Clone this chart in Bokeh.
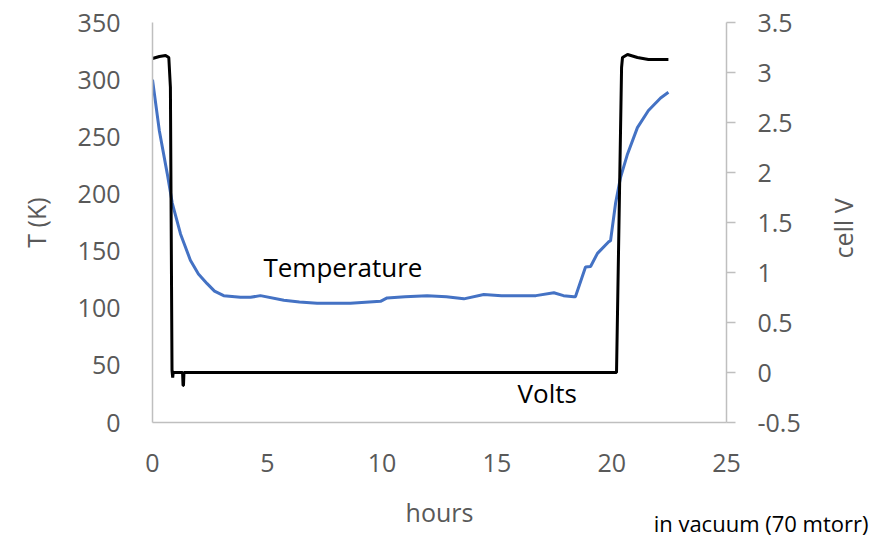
from bokeh.plotting import figure
from bokeh.models import (Range1d, LinearAxis, FixedTicker, NumeralTickFormatter, Label, Title,
                          CustomJSTickFormatter)
from bokeh.embed import file_html
from bokeh.resources import INLINE
import math

# ---- data ----
t_hours = [0, 0.3, 0.64, 0.86, 1.22, 1.65, 2.0, 2.38, 2.7, 3.1, 3.83, 4.27, 4.7, 5.72, 6.4,
           7.17, 8.62, 9.93, 10.22, 11.0, 11.96, 12.8, 13.56, 14.43, 15.2, 15.88, 16.7, 17.48,
           17.9, 18.35, 18.42, 18.86, 19.08, 19.38, 19.86, 19.95, 20.17, 20.38, 20.69, 21.12,
           21.6, 22.13, 22.47]
temperature_K = [300, 255, 218, 192, 165, 142, 130, 121.5, 115, 111, 109.5, 109.6, 111, 107, 105.5,
                 104.4, 104.4, 106, 109, 110, 111, 110, 108.2, 112, 111, 111, 111, 113.5,
                 111, 110, 110, 136, 136.5, 148, 158, 159, 192, 214, 235, 258,
                 273, 284, 289]

v_hours = [0, 0.3, 0.57, 0.71, 0.78, 0.85, 0.88, 0.9, 1.31, 1.33, 1.35, 1.37, 20.21, 20.43,
           20.47, 20.69, 21.12, 21.6, 22.47]
cell_volts = [3.14, 3.16, 3.17, 3.15, 2.85, 0.02, -0.05, 0.0, 0.0, -0.13, -0.13, 0.0, 0.0, 3.05,
              3.15, 3.18, 3.15, 3.13, 3.13]

t_ticks = [0, 50, 100, 150, 200, 250, 300, 350]
v_ticks = [-0.5, 0, 0.5, 1, 1.5, 2, 2.5, 3, 3.5]
x_ticks = [0, 5, 10, 15, 20, 25]

FONT = "Open Sans"
GRAY = "#595959"
AXIS = "#BFBFBF"

p = figure(frame_width=574, frame_height=400, output_backend="svg", toolbar_location=None,
           x_range=Range1d(0, 25), y_range=Range1d(0, 350),
           min_border_left=152, min_border_right=140, min_border_top=22, min_border_bottom=114)
p.outline_line_color = None
p.xgrid.visible = False
p.ygrid.visible = False
p.background_fill_color = "white"
p.border_fill_color = "white"

p.extra_y_ranges = {"volts": Range1d(-0.5, 3.5)}
raxis = LinearAxis(y_range_name="volts", ticker=FixedTicker(ticks=v_ticks),
                   formatter=NumeralTickFormatter(format="0.[0]"))
p.add_layout(raxis, "right")

# helper axis that carries the right-hand axis title, reading bottom-to-top
taxis = LinearAxis(y_range_name="volts", ticker=FixedTicker(ticks=[1.14]),
                   formatter=CustomJSTickFormatter(code="return 'cell V'"),
                   axis_line_color=None, major_tick_line_color=None, minor_tick_line_color=None)
p.add_layout(taxis, "right")

for ax in [p.xaxis[0], p.yaxis[0], raxis, taxis]:
    ax.major_label_text_font = FONT
    ax.major_label_text_font_size = "25px"
    ax.major_label_text_color = GRAY
    ax.minor_tick_line_color = None
    ax.major_tick_in = 0
    ax.axis_label_text_font = FONT
    ax.axis_label_text_font_size = "25px"
    ax.axis_label_text_color = GRAY
    ax.axis_label_text_font_style = "normal"
for ax in [p.xaxis[0], p.yaxis[0], raxis]:
    ax.axis_line_color = AXIS
    ax.axis_line_width = 1.5

p.xaxis[0].ticker = FixedTicker(ticks=x_ticks)
p.yaxis[0].ticker = FixedTicker(ticks=t_ticks)
p.xaxis[0].major_tick_line_color = None
p.yaxis[0].major_tick_line_color = None
p.xaxis[0].major_tick_out = 0
p.yaxis[0].major_tick_out = 0
p.xaxis[0].major_label_standoff = 31
p.yaxis[0].major_label_standoff = 32
raxis.major_tick_line_color = AXIS
raxis.major_tick_line_width = 1.5
raxis.major_tick_out = 9
raxis.major_label_standoff = 22
taxis.major_tick_out = 0
taxis.major_label_standoff = 39
taxis.major_label_orientation = math.pi / 2

p.xaxis[0].axis_label = "hours"
p.xaxis[0].axis_label_standoff = 20
p.yaxis[0].axis_label = "T (K)"
p.yaxis[0].axis_label_standoff = 22

p.line(t_hours, temperature_K, line_color="#4472C4", line_width=3)
p.line(v_hours, cell_volts, line_color="black", line_width=3, y_range_name="volts")

def lab(x, y, text, size, color="black"):
    p.add_layout(Label(x=x, y=y, text=text, text_font=FONT, text_font_size=size,
                       text_color=color, text_align="left", text_baseline="alphabetic"))

lab(4.83, 136.5, "Temperature", "26px")
lab(15.9, 25.4, "Volts", "26px")

note = Title(text="in vacuum (70 mtorr)", align="right", vertical_align="top", text_font=FONT,
             text_font_size="22px", text_font_style="normal", text_color="black",
             offset=-142, standoff=-48)
p.add_layout(note, "below")

open("out.html", "w").write(file_html(p, INLINE))
